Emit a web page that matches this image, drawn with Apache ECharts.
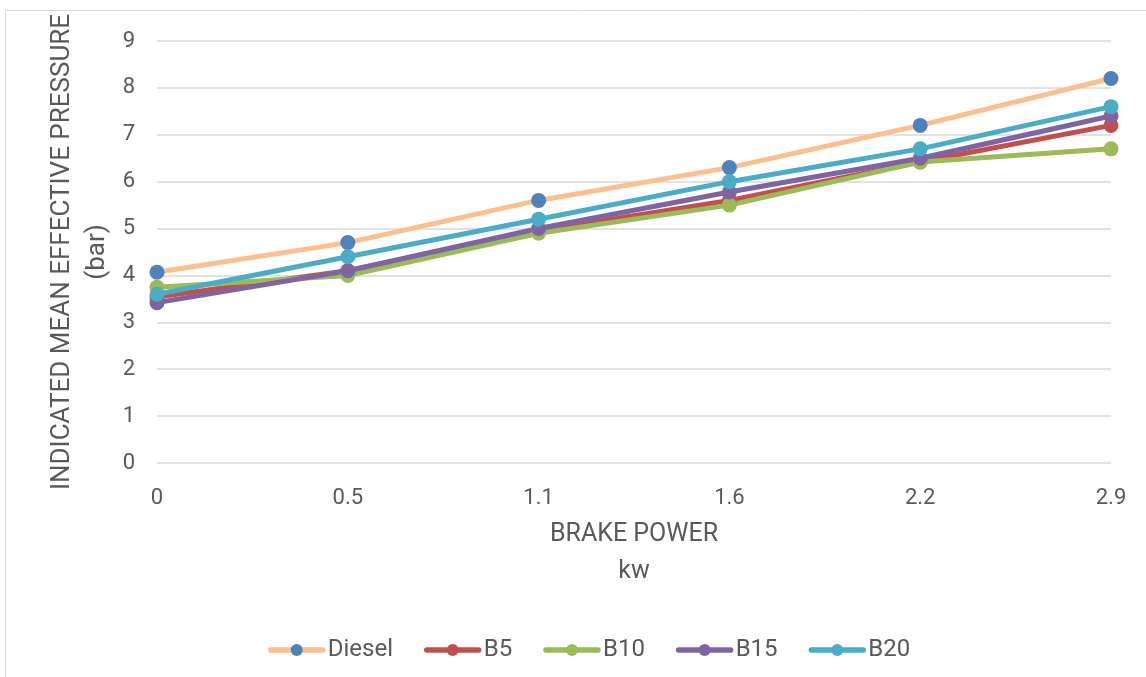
<!DOCTYPE html>
<html>
<head>
<meta charset="utf-8">
<script src="https://cdn.jsdelivr.net/npm/echarts@6/dist/echarts.min.js"></script>
<style>
  html, body { margin: 0; padding: 0; background: #fff; }
  #chart { width: 1146px; height: 677px; }
</style>
</head>
<body>
<div id="chart"></div>
<script>
// Brake power steps (kW) shown as evenly spaced categories
const brakePower = ['0', '0.5', '1.1', '1.6', '2.2', '2.9'];

// Indicated mean effective pressure (bar) per fuel blend
const diesel = [4.07, 4.7, 5.6, 6.3, 7.2, 8.2];
const b5     = [3.54, 4.1, 4.95, 5.6, 6.42, 7.2];
const b10    = [3.75, 4.0, 4.9, 5.5, 6.42, 6.7];
const b15    = [3.42, 4.1, 5.0, 5.78, 6.5, 7.4];
const b20    = [3.6, 4.4, 5.2, 6.0, 6.7, 7.6];

const yTicks = [0, 1, 2, 3, 4, 5, 6, 7, 8, 9];

const textColor = '#595959';
const fontFamily = 'Roboto, "Liberation Sans", sans-serif';

function lineSeries(name, data, lineColor, markerColor) {
  return {
    name: name,
    type: 'line',
    data: data,
    symbol: 'circle',
    symbolSize: 15,
    showSymbol: true,
    lineStyle: { color: lineColor, width: 5 },
    itemStyle: { color: markerColor },
    emphasis: { disabled: true }
  };
}

const chart = echarts.init(document.getElementById('chart'), null, { renderer: 'canvas' });

chart.setOption({
  animation: false,
  backgroundColor: '#ffffff',
  textStyle: { fontFamily: fontFamily },
  graphic: [{
    type: 'rect',
    shape: { x: 5.5, y: 10.5, width: 1145, height: 670 },
    style: { fill: 'none', stroke: '#d9d9d9', lineWidth: 1 },
    silent: true
  }, {
    // unit line under the y-axis title
    type: 'text',
    x: 97,
    y: 252,
    rotation: Math.PI / 2,
    silent: true,
    style: {
      text: '(bar)',
      fill: textColor,
      font: '26px ' + fontFamily,
      align: 'center',
      verticalAlign: 'middle'
    }
  }],
  grid: { left: 157, right: 35, top: 41, bottom: 214 },
  legend: {
    bottom: 10,
    left: 263,
    itemWidth: 52,
    itemHeight: 15,
    itemGap: 31,
    lineStyle: { width: 5.5, cap: 'round' },
    textStyle: { color: textColor, fontSize: 24, fontFamily: fontFamily },
    data: ['Diesel', 'B5', 'B10', 'B15', 'B20']
  },
  xAxis: {
    type: 'category',
    data: brakePower,
    boundaryGap: false,
    name: 'BRAKE POWER\nkw',
    nameLocation: 'middle',
    nameGap: 53,
    nameTextStyle: { color: textColor, fontSize: 25, lineHeight: 37, fontFamily: fontFamily },
    axisLine: { show: false },
    axisTick: { show: false },
    axisLabel: { color: textColor, fontSize: 22, margin: 24, fontFamily: fontFamily },
    splitLine: { show: false }
  },
  yAxis: {
    type: 'value',
    min: yTicks[0],
    max: yTicks[yTicks.length - 1],
    interval: 1,
    name: 'INDICATED MEAN EFFECTIVE PRESSURE',
    nameLocation: 'middle',
    nameRotate: 90,
    nameGap: 80,
    nameTextStyle: { color: textColor, fontSize: 26, lineHeight: 30, fontFamily: fontFamily },
    axisLine: { show: false },
    axisTick: { show: false },
    axisLabel: { color: textColor, fontSize: 22, margin: 22, fontFamily: fontFamily },
    splitLine: { lineStyle: { color: '#d9d9d9', width: 1.5 } }
  },
  series: [
    lineSeries('Diesel', diesel, '#fac08f', '#4f81bd'),
    lineSeries('B5', b5, '#c0504d', '#c0504d'),
    lineSeries('B10', b10, '#9bbb59', '#9bbb59'),
    lineSeries('B15', b15, '#8064a2', '#8064a2'),
    lineSeries('B20', b20, '#4bacc6', '#4bacc6')
  ]
});
</script>
</body>
</html>
